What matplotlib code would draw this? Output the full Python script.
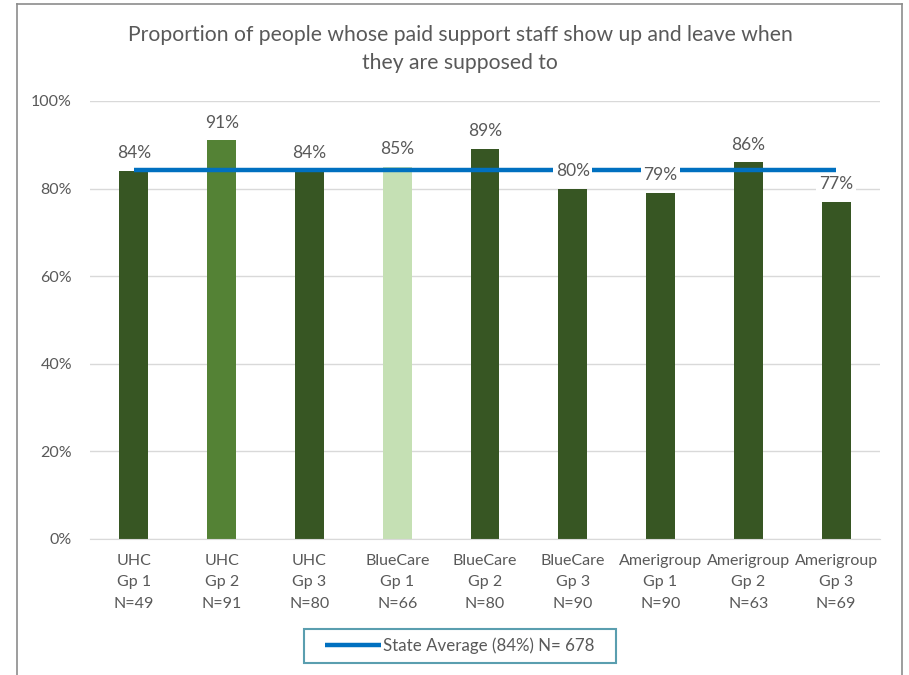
import numpy as np
import matplotlib.pyplot as plt
from matplotlib.lines import Line2D

# Chart data
groups = ["UHC\nGp 1\nN=49", "UHC\nGp 2\nN=91", "UHC\nGp 3\nN=80",
          "BlueCare\nGp 1\nN=66", "BlueCare\nGp 2\nN=80", "BlueCare\nGp 3\nN=90",
          "Amerigroup\nGp 1\nN=90", "Amerigroup\nGp 2\nN=63", "Amerigroup\nGp 3\nN=69"]
values = [0.84, 0.91, 0.84, 0.85, 0.89, 0.80, 0.79, 0.86, 0.77]
bar_colors = ["#375623", "#548235", "#375623", "#C5E0B4", "#375623",
              "#375623", "#375623", "#375623", "#375623"]
state_avg = 0.843
legend_label = "State Average (84%) N= 678"
title = "Proportion of people whose paid support staff show up and leave when\nthey are supposed to"

plt.rcParams['font.family'] = ['Lato', 'DejaVu Sans']
text_color = "#595959"

fig = plt.figure(figsize=(9.09, 6.75), dpi=100)
ax = fig.add_axes([90/909, 1 - 539/675, 790/909, 438/675])

x = np.arange(len(groups))
ax.bar(x, values, width=0.33, color=bar_colors, zorder=2)
line, = ax.plot(x, [state_avg]*len(x), color="#0070C0", linewidth=3.2,
                solid_capstyle='butt', zorder=3, label=legend_label)

# data labels with white background
for xi, v in zip(x, values):
    ax.annotate(f"{v:.0%}", (xi, v), xytext=(0, 7), textcoords='offset points',
                ha='center', va='bottom', fontsize=12.5, color=text_color, zorder=4,
                bbox=dict(boxstyle='square,pad=0.15', fc='white', ec='none'))

ax.set_xlim(-0.5, len(x) - 0.5)
ax.set_ylim(0, 1)
ax.set_yticks(np.arange(0, 1.01, 0.2))
ax.set_yticklabels([f"{t:.0%}" for t in np.arange(0, 1.01, 0.2)])
ax.set_xticks(x)
ax.set_xticklabels(groups, linespacing=1.65)
ax.tick_params(axis='both', length=0, labelsize=11.5, labelcolor=text_color)
ax.tick_params(axis='x', pad=11)
ax.tick_params(axis='y', pad=13)
ax.grid(axis='y', color="#D9D9D9", linewidth=1, zorder=0)
ax.set_axisbelow(True)
for s in ['top', 'right', 'left']:
    ax.spines[s].set_visible(False)
ax.spines['bottom'].set_color("#D9D9D9")

fig.text(460/909, 1 - 49/675, title, ha='center', va='center', fontsize=15.2,
         color=text_color, linespacing=1.55)

leg = fig.legend(handles=[line], loc='center', bbox_to_anchor=(460/909, 1 - 646/675),
                 frameon=True, fancybox=False, fontsize=12.2, handlelength=3.3,
                 handletextpad=0.1, borderpad=0.5, borderaxespad=0)
leg.get_frame().set_edgecolor("#31869B")
leg.get_frame().set_linewidth(1.5)
for t in leg.get_texts():
    t.set_color(text_color)
# wider legend box like the reference
leg._legend_box.set_width(296)

# outer chart border
bc = "#8C8C8C"
fig.add_artist(Line2D([17/909, 17/909], [0, 1 - 4/675], color=bc, lw=1.2))
fig.add_artist(Line2D([902/909, 902/909], [0, 1 - 4/675], color=bc, lw=1.2))
fig.add_artist(Line2D([17/909, 902/909], [1 - 4/675, 1 - 4/675], color=bc, lw=1.2))

fig.savefig("out.png", dpi=100)
